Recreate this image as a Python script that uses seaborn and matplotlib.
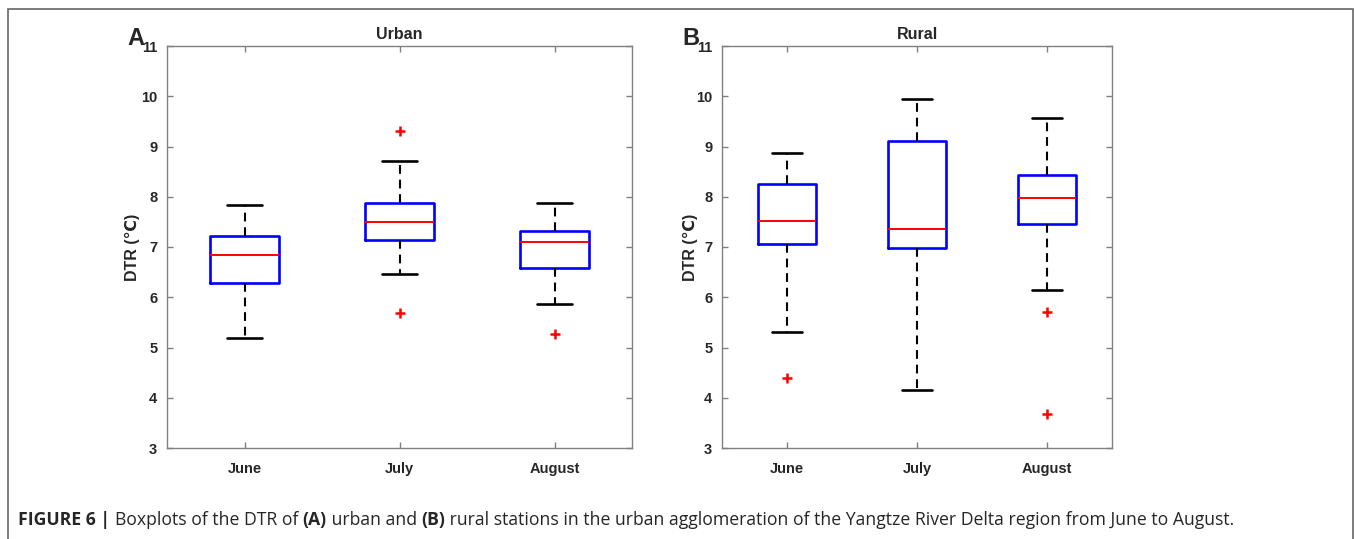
import numpy as np
import pandas as pd
import matplotlib
matplotlib.use("Agg")
import matplotlib.pyplot as plt
import seaborn as sns

# months on the x axis
months = ["June", "July", "August"]

# Urban stations: five-number summary per month
urban_low = [5.19, 6.47, 5.86]
urban_q1 = [6.28, 7.14, 6.58]
urban_med = [6.84, 7.50, 7.09]
urban_q3 = [7.22, 7.88, 7.32]
urban_high = [7.83, 8.71, 7.87]
urban_out_month = ["July", "July", "August"]
urban_out_val = [9.30, 5.69, 5.26]

# Rural stations
rural_low = [5.30, 4.15, 6.14]
rural_q1 = [7.05, 6.99, 7.45]
rural_med = [7.52, 7.36, 7.98]
rural_q3 = [8.25, 9.10, 8.43]
rural_high = [8.87, 9.94, 9.56]
rural_out_month = ["June", "August", "August"]
rural_out_val = [4.40, 5.71, 3.68]


def summary_frame(low, q1, med, q3, high):
    rows = []
    for i, m in enumerate(months):
        for v in (low[i], q1[i], med[i], q3[i], high[i]):
            rows.append({"month": m, "DTR": v})
    return pd.DataFrame(rows)


urban_df = summary_frame(urban_low, urban_q1, urban_med, urban_q3, urban_high)
rural_df = summary_frame(rural_low, rural_q1, rural_med, rural_q3, rural_high)
urban_out = pd.DataFrame({"month": urban_out_month, "DTR": urban_out_val})
rural_out = pd.DataFrame({"month": rural_out_month, "DTR": rural_out_val})

sns.set_style("ticks")
plt.rcParams["font.family"] = ["Liberation Sans", "DejaVu Sans"]

fig = plt.figure(figsize=(13.54, 5.39), dpi=100)
W, H = 1354, 539
ax_a = fig.add_axes([167 / W, 1 - 448 / H, (632 - 167) / W, (448 - 46) / H])
ax_b = fig.add_axes([722 / W, 1 - 448 / H, (1112 - 722) / W, (448 - 46) / H])

box_kw = dict(
    order=months, whis=(0, 100), width=0.45, fill=False, showfliers=False,
    boxprops={"color": "#0000ff", "linewidth": 1.9},
    medianprops={"color": "#ff0000", "linewidth": 1.4},
    whiskerprops={"color": "black", "linewidth": 1.5, "linestyle": (0, (4.2, 2.8))},
    capprops={"color": "black", "linewidth": 1.9},
)

for ax, df, out, title, letter, lab_x in [
    (ax_a, urban_df, urban_out, "Urban", "A", -0.058),
    (ax_b, rural_df, rural_out, "Rural", "B", -0.062),
]:
    sns.boxplot(data=df, x="month", y="DTR", ax=ax, **box_kw)
    sns.stripplot(data=out, x="month", y="DTR", order=months, ax=ax, jitter=False,
                  marker="+", color="#ff0000", size=6.5, linewidth=1.8)
    ax.set_ylim(3, 11)
    ax.set_yticks(range(3, 12))
    ax.set_xlim(-0.5, 2.5)
    ax.set_xlabel("")
    ax.set_ylabel("DTR (℃)", fontsize=11.5, fontweight="bold")
    ax.yaxis.set_label_coords(lab_x, 0.5)
    ax.set_title(title, fontsize=11.5, fontweight="bold", pad=5)
    ax.tick_params(direction="in", length=4, width=1, color="#808080",
                   top=True, right=True, labelsize=10.5)
    ax.tick_params(axis="x", pad=10)
    ax.tick_params(axis="y", pad=7)
    for lab in ax.get_xticklabels() + ax.get_yticklabels():
        lab.set_fontweight("bold")
    for sp in ax.spines.values():
        sp.set_visible(True)
        sp.set_color("#808080")
        sp.set_linewidth(1)
    pos = ax.get_position()
    fig.text(pos.x0 - 40 / W, 1 - 45 / H, letter, fontsize=17,
             fontweight="bold", ha="left", va="baseline")

# outer frame around figure and caption
frame = plt.Rectangle((8 / W, -0.1), (1353 - 8) / W, 1.1 - 9 / H, transform=fig.transFigure,
                      fill=False, edgecolor="#666666", linewidth=1.2)
fig.add_artist(frame)

# caption with mixed weights
parts = [
    ("FIGURE 6 | ", "bold"),
    ("Boxplots of the DTR of ", "normal"),
    ("(A)", "bold"),
    (" urban and ", "normal"),
    ("(B)", "bold"),
    (" rural stations in the urban agglomeration of the Yangtze River Delta region from June to August.", "normal"),
]
renderer = fig.canvas.get_renderer()
x = 18
for txt, wt in parts:
    t = fig.text(x / W, 1 - 525 / H, txt, fontsize=12.7, fontweight=wt,
                 family=["Open Sans", "DejaVu Sans"], ha="left", va="baseline")
    bb = t.get_window_extent(renderer=renderer)
    x += bb.width

fig.savefig("out.png", dpi=100)
